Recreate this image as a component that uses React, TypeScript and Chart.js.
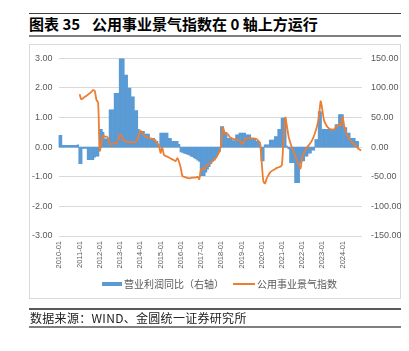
import React, { useEffect, useRef } from "react";
import { Chart, registerables } from "chart.js";

Chart.register(...registerables);

const years = [2010, 2011, 2012, 2013, 2014, 2015, 2016, 2017, 2018, 2019, 2020, 2021, 2022, 2023, 2024];
const monthNames = ["01", "02", "03", "04", "05", "06", "07", "08", "09", "10", "11", "12"];
const categories: string[] = years.flatMap((y) => monthNames.map((m) => `${y}-${m}`));

// 营业利润同比（右轴）, monthly
const profit2010 = [20, 20, 3, 3, 3, 3, 3, 3, 3, 3, 3, 4];
const profit2011 = [-28, -28, -2, -2, -2, -21, -21, -21, -21, -17, -15, -15];
const profit2012 = [30, 30, 25, 14, 14, 14, 63, 63, 63, 91, 91, 91];
const profit2013 = [150, 150, 150, 122, 122, 100, 100, 85, 85, 62, 62, 30];
const profit2014 = [27, 27, 27, 22, 22, 22, 15, 15, 15, 10, 10, 4];
const profit2015 = [24, 24, 24, 24, 24, 15, 15, 10, 10, 10, 10, 5];
const profit2016 = [-8, -9, -10, -11, -12, -13, -15, -16, -18, -20, -22, -24];
const profit2017 = [-48, -48, -48, -42, -37, -33, -28, -24, -22, -17, -12, -8];
const profit2018 = [35, 35, 25, 25, 15, 15, 15, 11, 11, 21, 21, 24];
const profit2019 = [24, 24, 24, 21, 21, 21, 15, 15, 15, 10, 10, 5];
const profit2020 = [-23, -23, 4, 4, 4, 12, 12, 12, 18, 18, 30, 30];
const profit2021 = [49, 49, 49, 2, -3, -26, -26, -26, -60, -60, -60, -27];
const profit2022 = [-23, -23, -15, -15, -10, -10, -5, -5, 13, 13, 60, 60];
const profit2023 = [30, 30, 30, 30, 30, 30, 30, 30, 38, 38, 55, 55];
const profit2024 = [55, 33, 33, 24, 24, 15, 15, 15, 10, 10, null, null];

// 公用事业景气指数 (left axis), monthly
const index2010 = [null, null, null, null, null, null, null, null, null, null, null, null];
const index2011 = [1.79, 1.62, 1.65, 1.7, 1.73, 1.78, 1.82, 1.87, 1.93, 1.9, 1.6, 1.5];
const index2012 = [-0.12, 0.15, 0.4, 0.35, 0.36, 0.3, 0.1, 0.1, 0.12, 0.13, 0.14, 0.25];
const index2013 = [0.44, 0.35, 0.25, 0.2, 0.18, 0.18, 0.17, 0.17, 0.16, 0.18, 0.22, 0.4];
const index2014 = [0.56, 0.5, 0.42, 0.37, 0.34, 0.31, 0.3, 0.28, 0.25, 0.23, 0.12, 0.09];
const index2015 = [-0.19, -0.02, -0.25, -0.3, -0.32, -0.35, -0.38, -0.41, -0.44, -0.47, -0.37, -0.5];
const index2016 = [-0.7, -0.98, -1.0, -1.02, -1.04, -1.05, -1.04, -1.03, -1.03, -1.02, -1.0, -1.08];
const index2017 = [-0.75, -0.72, -0.75, -0.65, -0.58, -0.55, -0.52, -0.45, -0.41, -0.35, -0.25, -0.13];
const index2018 = [0.1, 0.67, 0.5, 0.45, 0.43, 0.35, 0.31, 0.28, 0.27, 0.26, 0.25, 0.22];
const index2019 = [0.15, 0.1, 0.28, 0.3, 0.31, 0.31, 0.3, 0.3, 0.29, 0.27, 0.22, 0.15];
const index2020 = [-0.5, -1.15, -1.22, -1.05, -0.95, -0.85, -0.8, -0.77, -0.74, -0.7, -0.68, -0.66];
const index2021 = [-0.6, 0.3, 1.0, 0.7, 0.35, 0.15, -0.02, -0.15, -0.3, -0.45, -0.62, -0.72];
const index2022 = [-0.35, -0.2, -0.1, 0.0, 0.07, 0.15, 0.25, 0.38, 0.55, 0.75, 1.05, 1.55];
const index2023 = [1.25, 0.9, 0.78, 0.68, 0.63, 0.6, 0.6, 0.6, 0.68, 0.72, 0.76, 0.74];
const index2024 = [1.02, 0.7, 0.5, 0.38, 0.28, 0.2, 0.14, 0.09, 0.03, -0.03, -0.08, -0.11];

const profitSeries = [
  ...profit2010, ...profit2011, ...profit2012, ...profit2013, ...profit2014,
  ...profit2015, ...profit2016, ...profit2017, ...profit2018, ...profit2019,
  ...profit2020, ...profit2021, ...profit2022, ...profit2023, ...profit2024,
];
const indexSeries = [
  ...index2010, ...index2011, ...index2012, ...index2013, ...index2014,
  ...index2015, ...index2016, ...index2017, ...index2018, ...index2019,
  ...index2020, ...index2021, ...index2022, ...index2023, ...index2024,
];

const leftTicks = [-3, -2, -1, 0, 1, 2, 3];
const rightTicks = [-150, -100, -50, 0, 50, 100, 150];

const seriesNames = ["营业利润同比（右轴）", "公用事业景气指数"];
const titleLabel = "图表 35";
const titleText = "公用事业景气指数在 0 轴上方运行";
const sourceText = "数据来源：WIND、金圆统一证券研究所";

const BLUE = "#5B9BD5";
const ORANGE = "#ED7D31";
const GRAY_TEXT = "#595959";

export default function App() {
  const canvasRef = useRef<HTMLCanvasElement | null>(null);

  useEffect(() => {
    if (!canvasRef.current) return;
    const chart = new Chart(canvasRef.current, {
      type: "bar",
      data: {
        labels: categories,
        datasets: [
          {
            type: "line",
            label: seriesNames[1],
            data: indexSeries,
            yAxisID: "y",
            borderColor: ORANGE,
            backgroundColor: ORANGE,
            borderWidth: 1.8,
            pointRadius: 0,
            tension: 0.25,
            spanGaps: false,
            order: 1,
          } as any,
          {
            type: "bar",
            label: seriesNames[0],
            data: profitSeries,
            yAxisID: "y1",
            backgroundColor: BLUE,
            borderWidth: 0,
            barPercentage: 1,
            categoryPercentage: 1,
            order: 2,
          } as any,
        ],
      },
      options: {
        responsive: false,
        animation: false,
        layout: { padding: { left: 0, right: 0, top: 13, bottom: 23 } },
        plugins: {
          legend: { display: false },
          tooltip: { enabled: false },
        },
        scales: {
          x: {
            type: "category",
            grid: { display: false, drawTicks: false },
            border: { display: false },
            ticks: {
              autoSkip: false,
              maxRotation: 90,
              minRotation: 90,
              padding: 5,
              color: GRAY_TEXT,
              font: { family: "Liberation Sans", size: 7.5 },
              callback: (_v: any, i: number) =>
                categories[i].endsWith("-01") ? categories[i] : null,
            },
            afterFit: (s: any) => {
              s.height = 40;
            },
          },
          y: {
            position: "left",
            min: leftTicks[0],
            max: leftTicks[leftTicks.length - 1],
            afterBuildTicks: (s: any) => {
              s.ticks = leftTicks.map((v) => ({ value: v }));
            },
            grid: { color: "#D9D9D9", drawTicks: false, lineWidth: 1 },
            border: { display: false },
            ticks: {
              padding: 6,
              color: GRAY_TEXT,
              font: { family: "Liberation Sans", size: 9 },
              callback: (v: any) => Number(v).toFixed(2),
            },
            afterFit: (s: any) => {
              s.width = 29.5;
            },
          },
          y1: {
            position: "right",
            min: rightTicks[0],
            max: rightTicks[rightTicks.length - 1],
            afterBuildTicks: (s: any) => {
              s.ticks = rightTicks.map((v) => ({ value: v }));
            },
            grid: { display: false, drawTicks: false },
            border: { display: false },
            ticks: {
              padding: 9,
              color: GRAY_TEXT,
              font: { family: "Liberation Sans", size: 9 },
              callback: (v: any) => Number(v).toFixed(2),
            },
            afterFit: (s: any) => {
              s.width = 39;
            },
          },
        },
      } as any,
    });
    return () => chart.destroy();
  }, []);

  const abs = (o: React.CSSProperties): React.CSSProperties => ({ position: "fixed", ...o });

  return (
    <div style={abs({ left: 0, top: 0, width: 409, height: 351, background: "#fff" })}>
      <div style={abs({ left: 29, top: 13, width: 372, height: 1, background: "#404040" })} />
      <div
        style={abs({
          left: 29,
          top: 15,
          height: 17,
          lineHeight: "17px",
          fontFamily: "'Noto Sans CJK SC', sans-serif",
          fontWeight: 700,
          fontSize: 15,
          color: "#000",
          whiteSpace: "pre",
        })}
      >
        <span style={{ marginRight: 12 }}>{titleLabel}</span>
        {titleText}
      </div>
      <div style={abs({ left: 29, top: 35, width: 372, height: 2, background: "#7F7F7F" })} />
      <div
        style={abs({
          left: 29,
          top: 44,
          width: 372,
          height: 255,
          border: "1px solid #D9D9D9",
          boxSizing: "border-box",
        })}
      />
      <canvas
        ref={canvasRef}
        width={372}
        height={255}
        style={abs({ left: 29, top: 44, width: 372, height: 255 })}
      />
      <div style={abs({ left: 102, top: 282, width: 20, height: 4, background: BLUE })} />
      <div
        style={abs({
          left: 124,
          top: 277,
          height: 14,
          lineHeight: "14px",
          fontFamily: "'Noto Sans CJK SC', sans-serif",
          fontSize: 10,
          color: GRAY_TEXT,
          whiteSpace: "pre",
        })}
      >
        {seriesNames[0]}
      </div>
      <div style={abs({ left: 233, top: 283, width: 22, height: 2, background: ORANGE })} />
      <div
        style={abs({
          left: 257,
          top: 277,
          height: 14,
          lineHeight: "14px",
          fontFamily: "'Noto Sans CJK SC', sans-serif",
          fontSize: 10,
          color: GRAY_TEXT,
          whiteSpace: "pre",
        })}
      >
        {seriesNames[1]}
      </div>
      <div style={abs({ left: 29, top: 308, width: 372, height: 2, background: "#595959" })} />
      <div
        style={abs({
          left: 30,
          top: 310,
          height: 16,
          lineHeight: "16px",
          fontFamily: "'Noto Sans CJK SC', serif",
          fontSize: 12,
          color: "#222",
          whiteSpace: "pre",
          letterSpacing: "0.3px",
        })}
      >
        {sourceText}
      </div>
      <div style={abs({ left: 29, top: 326, width: 372, height: 2, background: "#7F7F7F" })} />
    </div>
  );
}
